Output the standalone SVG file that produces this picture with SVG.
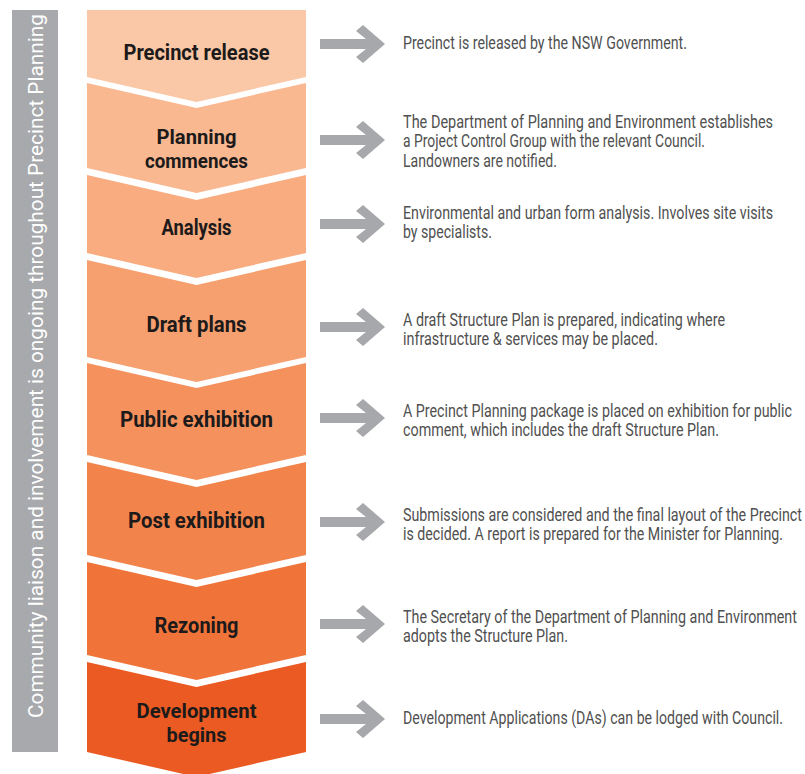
<svg xmlns="http://www.w3.org/2000/svg" width="805" height="774" viewBox="0 0 805 774">
<style>
.lbl{font-family:Roboto,"Liberation Sans",sans-serif;font-weight:bold;font-size:22px;fill:#1c1a1a;text-anchor:middle}
.lbl2{font-size:20px}
.dsc{font-family:Roboto,"Liberation Sans",sans-serif;font-size:17.5px;fill:#505050}
.side{font-family:Roboto,"Liberation Sans",sans-serif;font-size:21px;fill:#ffffff;text-anchor:middle}
.arr{fill:#a7a8ab}
</style>
<defs>
<path id="arrow" d="M320,-5 H366 L356,-13 L363,-19 L385,0 L363,19 L356,13 L366,5 H320 Z"/>
</defs>
<rect width="805" height="774" fill="#ffffff"/>
<g id="sidebar">
<rect x="12" y="10" width="46" height="742" fill="#a7a9ac"/>
<text class="side" transform="translate(42.5,366) rotate(-90)" textLength="704" lengthAdjust="spacingAndGlyphs">Community liaison and involvement is ongoing throughout Precinct Planning</text>
</g>
<g id="step1">
<path d="M87,10 H306 V77 L196.5,102 L87,77 Z" fill="#fac8a6"/>
<text class="lbl" x="196.5" y="60" textLength="146" lengthAdjust="spacingAndGlyphs">Precinct release</text>
</g>
<g id="step2">
<path d="M87,83 L196.5,108 L306,83 V168 L196.5,193 L87,168 Z" fill="#f9b890"/>
<text class="lbl lbl2" x="196.5" y="144" textLength="80" lengthAdjust="spacingAndGlyphs">Planning</text>
<text class="lbl lbl2" x="196.5" y="167.5" textLength="103" lengthAdjust="spacingAndGlyphs">commences</text>
</g>
<g id="step3">
<path d="M87,175 L196.5,200 L306,175 V253 L196.5,278 L87,253 Z" fill="#f8ac80"/>
<text class="lbl" x="196.5" y="235" textLength="70" lengthAdjust="spacingAndGlyphs">Analysis</text>
</g>
<g id="step4">
<path d="M87,260 L196.5,285 L306,260 V357 L196.5,382 L87,357 Z" fill="#f69f6f"/>
<text class="lbl" x="196.5" y="332" textLength="100" lengthAdjust="spacingAndGlyphs">Draft plans</text>
</g>
<g id="step5">
<path d="M87,363 L196.5,388 L306,363 V455 L196.5,480 L87,455 Z" fill="#f4915d"/>
<text class="lbl" x="196.5" y="427" textLength="153" lengthAdjust="spacingAndGlyphs">Public exhibition</text>
</g>
<g id="step6">
<path d="M87,462 L196.5,487 L306,462 V555 L196.5,580 L87,555 Z" fill="#f2834b"/>
<text class="lbl" x="196.5" y="528" textLength="137" lengthAdjust="spacingAndGlyphs">Post exhibition</text>
</g>
<g id="step7">
<path d="M87,562 L196.5,587 L306,562 V655 L196.5,680 L87,655 Z" fill="#f0733a"/>
<text class="lbl" x="196.5" y="633" textLength="84" lengthAdjust="spacingAndGlyphs">Rezoning</text>
</g>
<g id="step8">
<path d="M87,662 L196.5,687 L306,662 V752 L196.5,777 L87,752 Z" fill="#ea5a22"/>
<text class="lbl lbl2" x="196.5" y="718" textLength="120" lengthAdjust="spacingAndGlyphs">Development</text>
<text class="lbl lbl2" x="196.5" y="741.5" textLength="60" lengthAdjust="spacingAndGlyphs">begins</text>
</g>
<g id="connectors" class="arr">
<use href="#arrow" transform="translate(0,44)"/>
<use href="#arrow" transform="translate(0,140)"/>
<use href="#arrow" transform="translate(0,224)"/>
<use href="#arrow" transform="translate(0,327)"/>
<use href="#arrow" transform="translate(0,418)"/>
<use href="#arrow" transform="translate(0,522)"/>
<use href="#arrow" transform="translate(0,624)"/>
<use href="#arrow" transform="translate(0,719)"/>
</g>
<g id="descriptions" transform="translate(403,0) scale(0.78,1)">
<g id="desc1">
<text class="dsc" x="0" y="49" textLength="364.1" lengthAdjust="spacingAndGlyphs">Precinct is released by the NSW Government.</text>
</g>
<g id="desc2">
<text class="dsc" x="0" y="128" textLength="474.4" lengthAdjust="spacingAndGlyphs">The Department of Planning and Environment establishes</text>
<text class="dsc" x="0" y="147.5" textLength="387.2" lengthAdjust="spacingAndGlyphs">a Project Control Group with the relevant Council.</text>
<text class="dsc" x="0" y="167" textLength="197.4" lengthAdjust="spacingAndGlyphs">Landowners are notified.</text>
</g>
<g id="desc3">
<text class="dsc" x="0" y="219" textLength="474.4" lengthAdjust="spacingAndGlyphs">Environmental and urban form analysis. Involves site visits</text>
<text class="dsc" x="0" y="238.5" textLength="114.1" lengthAdjust="spacingAndGlyphs">by specialists.</text>
</g>
<g id="desc4">
<text class="dsc" x="0" y="326" textLength="412.8" lengthAdjust="spacingAndGlyphs">A draft Structure Plan is prepared, indicating where</text>
<text class="dsc" x="0" y="345.5" textLength="326.9" lengthAdjust="spacingAndGlyphs">infrastructure &amp; services may be placed.</text>
</g>
<g id="desc5">
<text class="dsc" x="0" y="417" textLength="498.7" lengthAdjust="spacingAndGlyphs">A Precinct Planning package is placed on exhibition for public</text>
<text class="dsc" x="0" y="436.5" textLength="405.1" lengthAdjust="spacingAndGlyphs">comment, which includes the draft Structure Plan.</text>
</g>
<g id="desc6">
<text class="dsc" x="0" y="521" textLength="511.5" lengthAdjust="spacingAndGlyphs">Submissions are considered and the final layout of the Precinct</text>
<text class="dsc" x="0" y="540.5" textLength="487.2" lengthAdjust="spacingAndGlyphs">is decided. A report is prepared for the Minister for Planning.</text>
</g>
<g id="desc7">
<text class="dsc" x="0" y="623" textLength="505.1" lengthAdjust="spacingAndGlyphs">The Secretary of the Department of Planning and Environment</text>
<text class="dsc" x="0" y="642.5" textLength="211.5" lengthAdjust="spacingAndGlyphs">adopts the Structure Plan.</text>
</g>
<g id="desc8">
<text class="dsc" x="0" y="724" textLength="487.2" lengthAdjust="spacingAndGlyphs">Development Applications (DAs) can be lodged with Council.</text>
</g>
</g>
</svg>
